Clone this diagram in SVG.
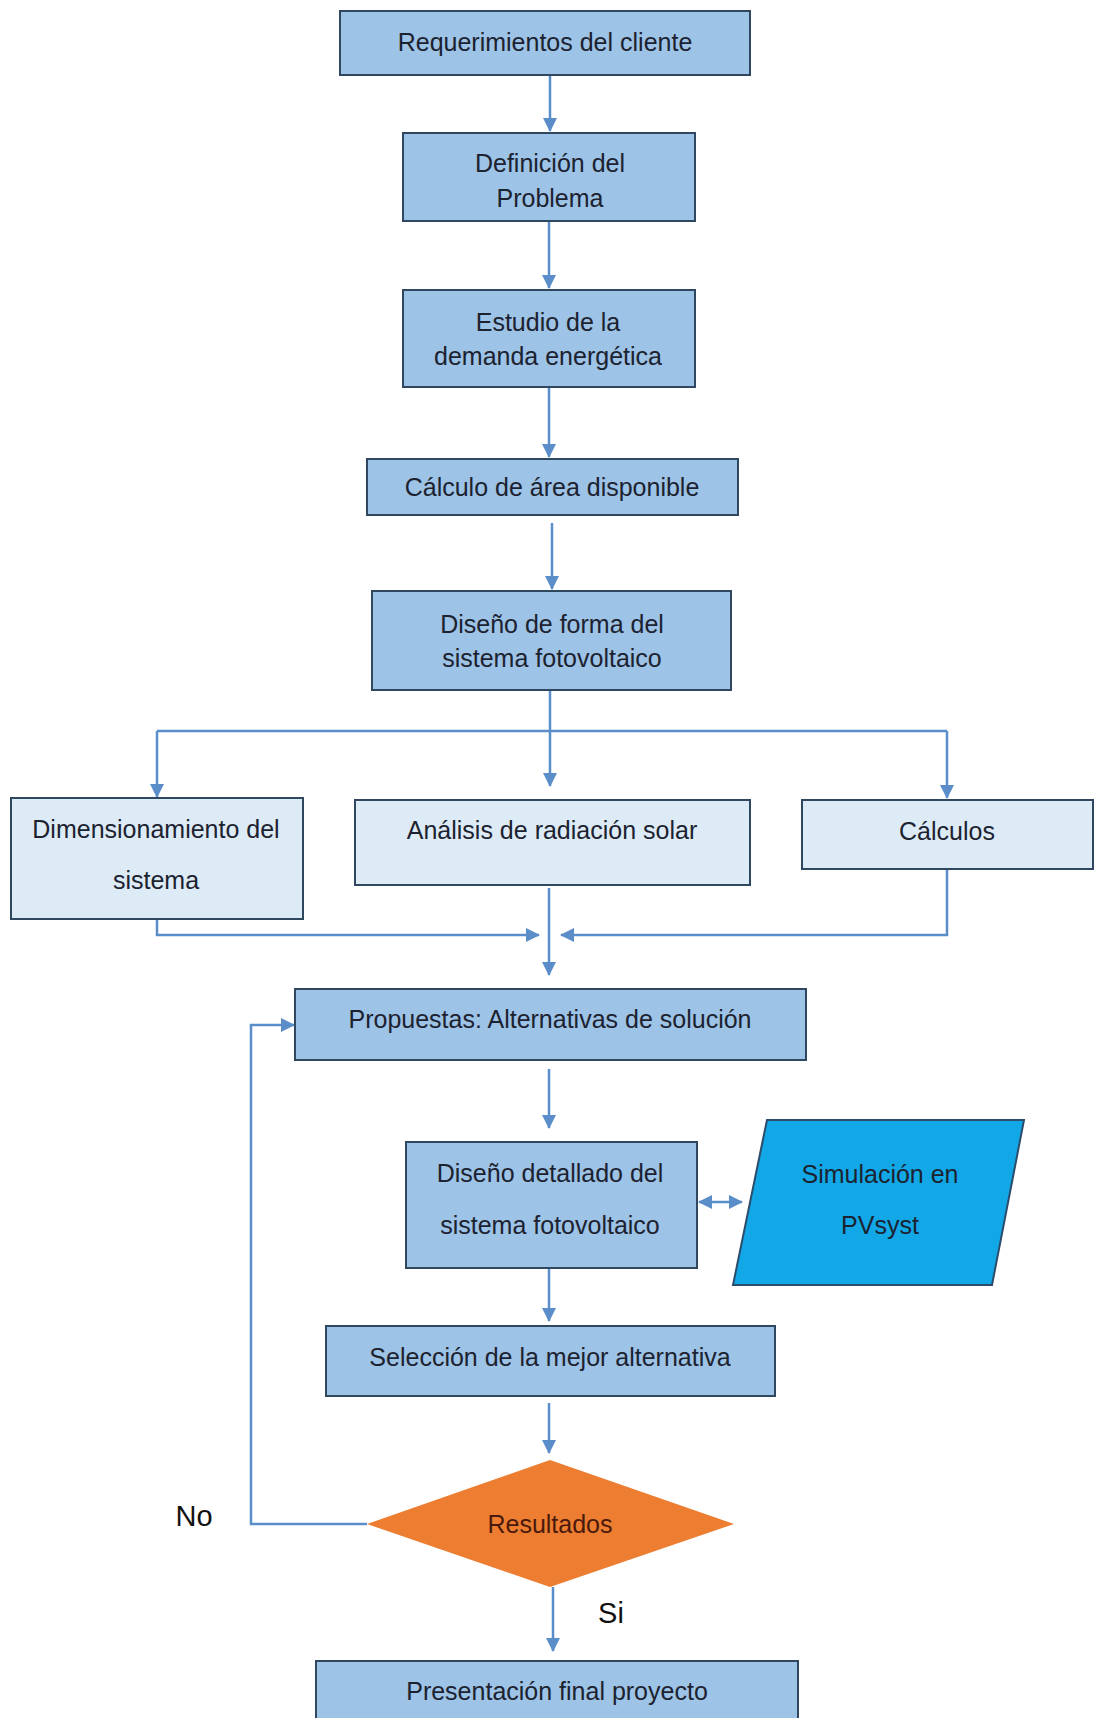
<svg xmlns="http://www.w3.org/2000/svg" width="1095" height="1718" viewBox="0 0 1095 1718">
<defs>
<marker id="ah" viewBox="0 0 14 14" refX="13" refY="7" markerWidth="14" markerHeight="14" markerUnits="userSpaceOnUse" orient="auto-start-reverse">
<path d="M0,0 L14,7 L0,14 Z" fill="#5b8ec9"/>
</marker>
<style>
.box{fill:#9dc3e6;stroke:#30485f;stroke-width:2}
.pale{fill:#ddebf7;stroke:#30485f;stroke-width:2}
.t{font-family:"Liberation Sans",Arial,sans-serif;font-size:25px;fill:#1c2230;text-anchor:middle}
.lbl{font-family:"Liberation Sans",Arial,sans-serif;font-size:29px;fill:#111;text-anchor:middle}
.c{fill:none;stroke:#5b8ec9;stroke-width:2.5}
</style>
</defs>
<rect width="1095" height="1718" fill="#ffffff"/>
<g id="connectors">
<path class="c" d="M550,75 V131" marker-end="url(#ah)"/>
<path class="c" d="M549,221 V288" marker-end="url(#ah)"/>
<path class="c" d="M549,387 V457" marker-end="url(#ah)"/>
<path class="c" d="M552,523 V589" marker-end="url(#ah)"/>
<path class="c" d="M550,690 V786"  marker-end="url(#ah)"/>
<path class="c" d="M157,731 H947"/>
<path class="c" d="M157,731 V797" marker-end="url(#ah)"/>
<path class="c" d="M947,731 V798" marker-end="url(#ah)"/>
<path class="c" d="M157,919 V935 H539" marker-end="url(#ah)"/>
<path class="c" d="M947,869 V935 H561" marker-end="url(#ah)"/>
<path class="c" d="M549,888 V975" marker-end="url(#ah)"/>
<path class="c" d="M549,1069 V1128" marker-end="url(#ah)"/>
<path class="c" d="M699,1202 H742" marker-start="url(#ah)" marker-end="url(#ah)"/>
<path class="c" d="M549,1268 V1321" marker-end="url(#ah)"/>
<path class="c" d="M549,1403 V1453" marker-end="url(#ah)"/>
<path class="c" d="M367,1524 H251 V1025 H294" marker-end="url(#ah)"/>
<path class="c" d="M553,1587 V1651" marker-end="url(#ah)"/>
</g>
<g id="n1"><rect class="box" x="340" y="11" width="410" height="64"/><text class="t" x="545" y="51">Requerimientos del cliente</text></g>
<g id="n2"><rect class="box" x="403" y="133" width="292" height="88"/><text class="t" x="550" y="172">Definición del</text><text class="t" x="550" y="207">Problema</text></g>
<g id="n3"><rect class="box" x="403" y="290" width="292" height="97"/><text class="t" x="548" y="331">Estudio de la</text><text class="t" x="548" y="365">demanda energética</text></g>
<g id="n4"><rect class="box" x="367" y="459" width="371" height="56"/><text class="t" x="552" y="496">Cálculo de área disponible</text></g>
<g id="n5"><rect class="box" x="372" y="591" width="359" height="99"/><text class="t" x="552" y="633">Diseño de forma del</text><text class="t" x="552" y="667">sistema fotovoltaico</text></g>
<g id="n6"><rect class="pale" x="11" y="798" width="292" height="121"/><text class="t" x="156" y="838">Dimensionamiento del</text><text class="t" x="156" y="889">sistema</text></g>
<g id="n7"><rect class="pale" x="355" y="800" width="395" height="85"/><text class="t" x="552" y="839">Análisis de radiación solar</text></g>
<g id="n8"><rect class="pale" x="802" y="800" width="291" height="69"/><text class="t" x="947" y="840">Cálculos</text></g>
<g id="n9"><rect class="box" x="295" y="989" width="511" height="71"/><text class="t" x="550" y="1028">Propuestas: Alternativas de solución</text></g>
<g id="n10"><rect class="box" x="406" y="1142" width="291" height="126"/><text class="t" x="550" y="1182">Diseño detallado del</text><text class="t" x="550" y="1234">sistema fotovoltaico</text></g>
<g id="n11"><polygon points="767,1120 1024,1120 992,1285 733,1285" fill="#12a8e8" stroke="#2b4c6b" stroke-width="2"/><text class="t" x="880" y="1183" fill="#1a2a48">Simulación en</text><text class="t" x="880" y="1234">PVsyst</text></g>
<g id="n12"><rect class="box" x="326" y="1326" width="449" height="70"/><text class="t" x="550" y="1366">Selección de la mejor alternativa</text></g>
<g id="n13"><polygon points="550,1460 734,1524 550,1587 367,1524" fill="#ed7d31"/><text class="t" x="550" y="1533" style="fill:#4a1a0c">Resultados</text></g>
<g id="n14"><rect class="box" x="316" y="1661" width="482" height="70"/><text class="t" x="557" y="1700">Presentación final proyecto</text></g>
<g id="labels"><text class="lbl" x="194" y="1526">No</text><text class="lbl" x="611" y="1623">Si</text></g>
</svg>
